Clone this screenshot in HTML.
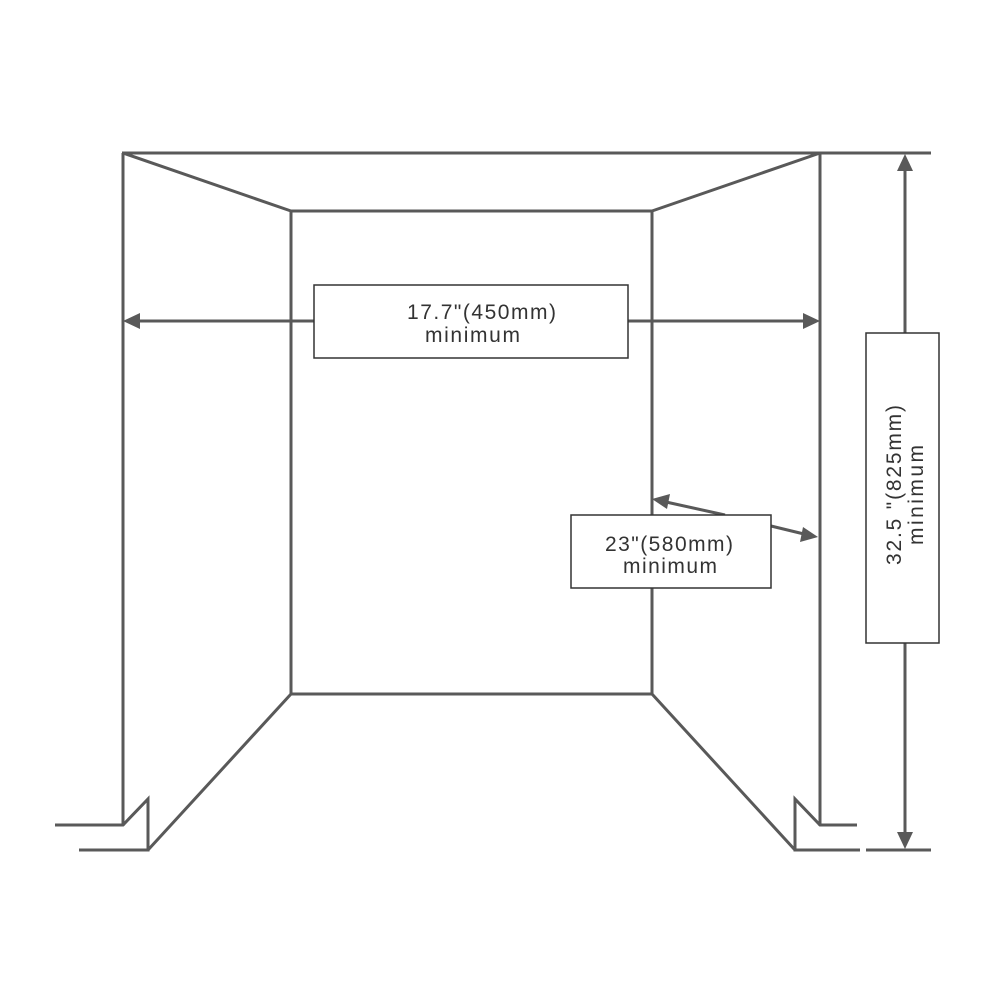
<!DOCTYPE html>
<html><head><meta charset="utf-8"><style>
html,body{margin:0;padding:0;background:#fff;}
svg{display:block;}
text{font-family:"Liberation Sans",sans-serif;fill:#333;font-size:21px;}
</style></head><body>
<svg width="1000" height="1000" viewBox="0 0 1000 1000" xmlns="http://www.w3.org/2000/svg">
<g stroke="#595959" stroke-width="3" fill="none" stroke-linecap="butt" stroke-linejoin="miter">
<line x1="122" y1="153" x2="931" y2="153"/>
<line x1="123" y1="153" x2="123" y2="826"/>
<line x1="820" y1="153" x2="820" y2="826"/>
<line x1="123" y1="153" x2="291" y2="211"/>
<line x1="820" y1="153" x2="652" y2="211"/>
<rect x="291" y="211" width="361" height="483"/>
<polyline points="55,825 123,825 148,799 148,850 79,850"/>
<line x1="148" y1="850" x2="291" y2="694"/>
<polyline points="857,825 820,825 795,799 795,850 860,850"/>
<line x1="795" y1="850" x2="652" y2="694"/>
<line x1="866" y1="850" x2="931" y2="850"/>
<line x1="905" y1="170" x2="905" y2="333"/>
<line x1="905" y1="643" x2="905" y2="833"/>
<line x1="138" y1="321" x2="314" y2="321"/>
<line x1="628" y1="321" x2="805" y2="321"/>
<line x1="666" y1="502" x2="725" y2="515"/>
<line x1="771" y1="526" x2="804" y2="534"/>
</g>
<g fill="#595959">
<polygon points="123,321 140,313 140,329"/>
<polygon points="820,321 803,313 803,329"/>
<polygon points="905,154 897,171 913,171"/>
<polygon points="905,849 897,832 913,832"/>
<polygon points="652,499 670,494 667,509"/>
<polygon points="818,537 800,542 803,527"/>
</g>
<g fill="#fff" stroke="#333" stroke-width="1.5">
<rect x="314" y="285" width="314" height="73"/>
<rect x="571" y="515" width="200" height="73"/>
<rect x="866" y="333" width="73" height="310"/>
</g>
<text x="407" y="319" textLength="149" lengthAdjust="spacing">17.7"(450mm)</text>
<text x="425" y="342" textLength="95" lengthAdjust="spacing">minimum</text>
<text x="605" y="551" textLength="128" lengthAdjust="spacing">23"(580mm)</text>
<text x="623" y="573" textLength="94" lengthAdjust="spacing">minimum</text>
<text transform="translate(901,565) rotate(-90)" textLength="160" lengthAdjust="spacing">32.5 "(825mm)</text>
<text transform="translate(923,545) rotate(-90)" textLength="100" lengthAdjust="spacing">minimum</text>
</svg>
</body></html>
